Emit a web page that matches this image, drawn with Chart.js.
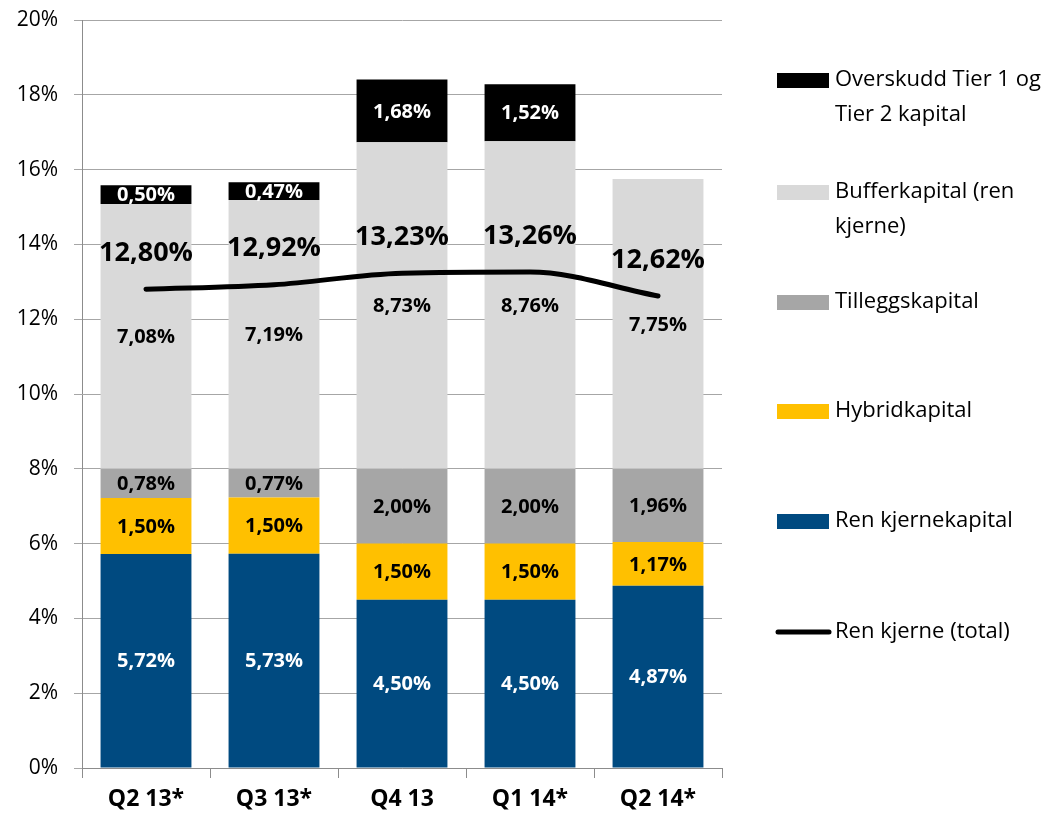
<!DOCTYPE html>
<html>
<head>
<meta charset="utf-8">
<script src="https://cdn.jsdelivr.net/npm/chart.js@4.4.1/dist/chart.umd.min.js"></script>
<style>
  html, body { margin: 0; padding: 0; background: #fff; }
  #wrap { width: 1054px; height: 816px; position: relative; }
</style>
</head>
<body>
<div id="wrap"><canvas id="chart" width="1054" height="816"></canvas></div>
<script>
const categories = ['Q2 13*', 'Q3 13*', 'Q4 13', 'Q1 14*', 'Q2 14*'];
const renKjernekapital = [5.72, 5.73, 4.50, 4.50, 4.87];
const hybridkapital = [1.50, 1.50, 1.50, 1.50, 1.17];
const tilleggskapital = [0.78, 0.77, 2.00, 2.00, 1.96];
const bufferkapital = [7.08, 7.19, 8.73, 8.76, 7.75];
const overskudd = [0.50, 0.47, 1.68, 1.52, null];
const renKjerneTotal = [12.80, 12.92, 13.23, 13.26, 12.62];
const yTicks = [0, 2, 4, 6, 8, 10, 12, 14, 16, 18, 20];

const FONT = '"Open Sans", Lato, sans-serif';
const fmt = v => v.toFixed(2).replace('.', ',') + '%';

// labels inside bar segments and above line points
const labelPlugin = {
  id: 'labels',
  afterDatasetsDraw(chart) {
    const ctx = chart.ctx;
    ctx.save();
    ctx.textAlign = 'center';
    ctx.textBaseline = 'middle';
    chart.data.datasets.forEach((ds, i) => {
      const meta = chart.getDatasetMeta(i);
      if (meta.hidden) return;
      meta.data.forEach((el, j) => {
        const v = ds.data[j];
        if (v == null) return;
        if (ds.type === 'line') {
          ctx.font = 'bold 27px ' + FONT;
          ctx.fillStyle = '#000';
          ctx.fillText(fmt(v), el.x, el.y - 36);
        } else {
          const mid = (el.y + el.base) / 2;
          ctx.font = 'bold 20px ' + FONT;
          ctx.fillStyle = ds.labelColor;
          ctx.fillText(fmt(v), el.x, mid + 1);
        }
      });
    });
    ctx.restore();
  }
};

// legend on the right, in the original's order
const legendPlugin = {
  id: 'sideLegend',
  afterDraw(chart) {
    const ctx = chart.ctx;
    const items = [
      { ds: 4, lines: ['Overskudd Tier 1 og', 'Tier 2 kapital'], y: 80 },
      { ds: 3, lines: ['Bufferkapital (ren', 'kjerne)'], y: 192 },
      { ds: 2, lines: ['Tilleggskapital'], y: 302 },
      { ds: 1, lines: ['Hybridkapital'], y: 411 },
      { ds: 0, lines: ['Ren kjernekapital'], y: 521 },
      { ds: 5, lines: ['Ren kjerne (total)'], y: 632 }
    ];
    ctx.save();
    ctx.font = '22px ' + FONT;
    ctx.textBaseline = 'middle';
    ctx.textAlign = 'left';
    items.forEach(it => {
      const ds = chart.data.datasets[it.ds];
      if (ds.type === 'line') {
        ctx.strokeStyle = ds.borderColor;
        ctx.lineWidth = 5;
        ctx.lineCap = 'round';
        ctx.beginPath();
        ctx.moveTo(778, it.y);
        ctx.lineTo(829, it.y);
        ctx.stroke();
      } else {
        ctx.fillStyle = ds.backgroundColor;
        ctx.fillRect(777, it.y - 7, 52, 15);
      }
      ctx.fillStyle = '#000';
      it.lines.forEach((t, k) => ctx.fillText(t, 835, it.y + k * 35));
    });
    ctx.restore();
  }
};

const barOpts = { type: 'bar', stack: 'kap', order: 1, borderWidth: 0,
  barPercentage: 0.71, categoryPercentage: 1 };

new Chart(document.getElementById('chart'), {
  data: {
    labels: categories,
    datasets: [
      { ...barOpts, label: 'Ren kjernekapital', data: renKjernekapital, backgroundColor: '#004A80', labelColor: '#fff' },
      { ...barOpts, label: 'Hybridkapital', data: hybridkapital, backgroundColor: '#FFC000', labelColor: '#000' },
      { ...barOpts, label: 'Tilleggskapital', data: tilleggskapital, backgroundColor: '#A6A6A6', labelColor: '#000' },
      { ...barOpts, label: 'Bufferkapital (ren kjerne)', data: bufferkapital, backgroundColor: '#D9D9D9', labelColor: '#000' },
      { ...barOpts, label: 'Overskudd Tier 1 og Tier 2 kapital', data: overskudd, backgroundColor: '#000000', labelColor: '#fff' },
      { type: 'line', label: 'Ren kjerne (total)', data: renKjerneTotal, stack: 'total', order: 0,
        borderColor: '#000', borderWidth: 5, pointRadius: 0, cubicInterpolationMode: 'monotone',
        borderCapStyle: 'round' }
    ]
  },
  options: {
    responsive: false,
    animation: false,
    layout: { autoPadding: false, padding: { left: 0, right: 332, top: 20, bottom: 0 } },
    plugins: { legend: { display: false }, tooltip: { enabled: false } },
    scales: {
      x: {
        stacked: true,
        offset: true,
        border: { color: '#8C8C8C', width: 1 },
        grid: { offset: true, drawOnChartArea: false, tickLength: 10, color: '#8C8C8C' },
        ticks: { color: '#000', font: { family: FONT, size: 23, weight: 'bold' }, padding: 8 },
        afterFit(scale) { scale.height = 48; }
      },
      y: {
        stacked: true,
        min: 0, max: 20,
        border: { color: '#8C8C8C', width: 1 },
        grid: { color: '#A6A6A6', tickLength: 8 },
        afterBuildTicks(scale) { scale.ticks = yTicks.map(v => ({ value: v })); },
        ticks: { color: '#000', font: { family: FONT, size: 21 }, padding: 16,
          callback: v => v + '%' },
        afterFit(scale) {
          scale.width = 82;
          scale.paddingTop = 0;
          scale.paddingBottom = 0;
        }
      }
    }
  },
  plugins: [labelPlugin, legendPlugin]
});
</script>
</body>
</html>
